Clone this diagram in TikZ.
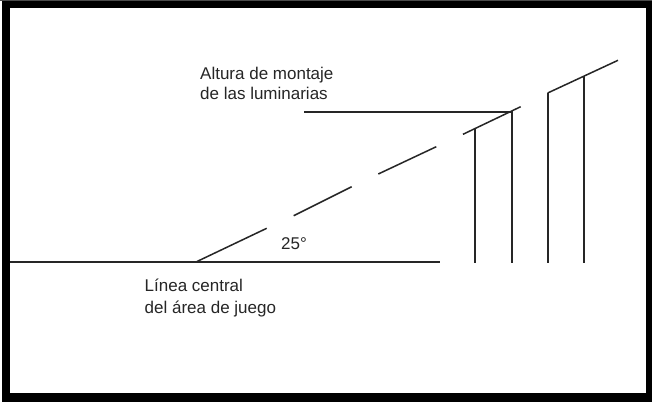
\documentclass[tikz,border=0pt]{standalone}
\usepackage{fontspec}
\setmainfont{Liberation Sans}
\tikzset{
  slantline/.style={draw=black!85, line width=1.5pt},
  straightline/.style={draw=black!85, line width=2pt},
  baseline line/.style={draw=black!85, line width=2.4pt},
  label text/.style={anchor=base west, inner sep=0pt, text=black!85, font=\fontsize{17}{20}\selectfont},
}
\begin{document}
\begin{tikzpicture}[x=1pt,y=-1pt]
\useasboundingbox (0,0) rectangle (652,403);
\fill[white] (0,0) rectangle (652,403);
\fill[black!70] (0,0) rectangle (652,1);
\fill[black] (2,1) rectangle (652,402);
\fill[white] (10,8) rectangle (646,393);
% base line
\coordinate (bl) at (10,262);
\coordinate (br) at (440.3,262);
\draw[baseline line] (bl) -- (br);
% sight line, in broken segments
\coordinate (a0) at (197,261.5);  \coordinate (a1) at (266.7,228.3);
\coordinate (b0) at (293.7,215.7);\coordinate (b1) at (351.7,186.7);
\coordinate (c0) at (378.3,174);  \coordinate (c1) at (436.3,146.7);
\coordinate (d0) at (463,134.3);  \coordinate (d1) at (520.7,106.7);
\coordinate (e0) at (547.7,93);   \coordinate (e1) at (618,60.3);
\draw[slantline] (a0) -- (a1);
\draw[slantline] (b0) -- (b1);
\draw[slantline] (c0) -- (c1);
\draw[slantline] (d0) -- (d1);
\draw[slantline] (e0) -- (e1);
% mounting height
\coordinate (h0) at (304,112);
\coordinate (h1) at (512,112);
\draw[straightline] (h0) -- (h1);
% posts
\coordinate (p1t) at (475,128);  \coordinate (p1b) at (475,262.5);
\coordinate (p2t) at (512,111);  \coordinate (p2b) at (512,262.5);
\coordinate (p3t) at (548,93);   \coordinate (p3b) at (548,262.5);
\coordinate (p4t) at (584,76.5); \coordinate (p4b) at (584,262.5);
\draw[straightline] (p1t) -- (p1b);
\draw[straightline] (p2t) -- (p2b);
\draw[straightline] (p3t) -- (p3b);
\draw[straightline] (p4t) -- (p4b);
% labels
\node[label text] (t1) at (200,79.5) {Altura de montaje};
\node[label text] (t2) at (200,100) {de las luminarias};
\node[label text] (t3) at (281,249.5) {25°};
\node[label text] (t4) at (144.5,291.5) {Línea central};
\node[label text] (t5) at (144.5,313.5) {del área de juego};
\end{tikzpicture}
\end{document}
